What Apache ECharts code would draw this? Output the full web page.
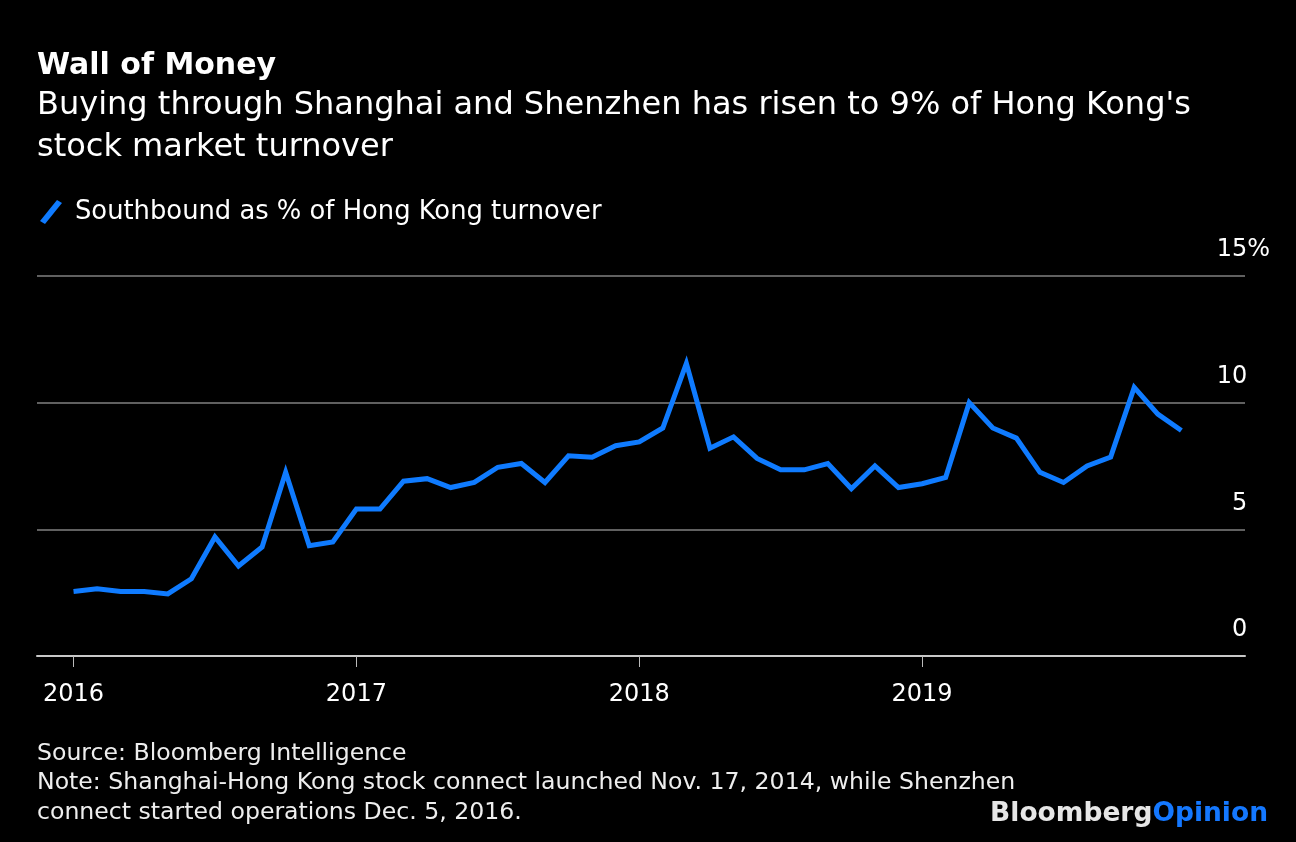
<!DOCTYPE html>
<html>
<head>
<meta charset="utf-8">
<script src="https://cdn.jsdelivr.net/npm/echarts@6/dist/echarts.min.js"></script>
<style>
html,body{margin:0;padding:0;background:#000;}
#chart{width:1296px;height:842px;}
</style>
</head>
<body>
<div id="chart"></div>
<script>
// ---- data ----
const months = [
 '2016-01','2016-02','2016-03','2016-04','2016-05','2016-06','2016-07','2016-08','2016-09','2016-10','2016-11','2016-12',
 '2017-01','2017-02','2017-03','2017-04','2017-05','2017-06','2017-07','2017-08','2017-09','2017-10','2017-11','2017-12',
 '2018-01','2018-02','2018-03','2018-04','2018-05','2018-06','2018-07','2018-08','2018-09','2018-10','2018-11','2018-12',
 '2019-01','2019-02','2019-03','2019-04','2019-05','2019-06','2019-07','2019-08','2019-09','2019-10','2019-11','2019-12'
];
const southbound = [
 2.55, 2.65, 2.55, 2.55, 2.45, 3.05, 4.7, 3.55, 4.3, 7.25, 4.35, 4.5,
 5.8, 5.8, 6.9, 7.0, 6.65, 6.85, 7.45, 7.6, 6.85, 7.9, 7.85, 8.3,
 8.45, 9.0, 11.55, 8.2, 8.65, 7.8, 7.35, 7.35, 7.6, 6.6, 7.5, 6.65,
 6.8, 7.05, 10.0, 9.0, 8.6, 7.25, 6.85, 7.5, 7.85, 10.6, 9.55, 8.9
];
const yearLabels = ['2016','2017','2018','2019'];
const seriesName = 'Southbound as % of Hong Kong turnover';

const FONT = '"DejaVu Sans"';
// month index on the x axis (Jan 2016 = 0)
const monthIndex = m => { const p = m.split('-').map(Number); return (p[0]-2016)*12 + (p[1]-1); };
const yearTickPos = yearLabels.map(y => monthIndex(y + '-01'));

const chart = echarts.init(document.getElementById('chart'), null, {renderer:'canvas'});
chart.setOption({
  backgroundColor: '#000',
  animation: false,
  title: [
    { text: 'Wall of Money', left: 37, top: 50, padding: 0,
      textStyle: {color:'#fff', fontFamily: FONT, fontWeight: 'bold', fontSize: 30, lineHeight: 32} },
    { text: "Buying through Shanghai and Shenzhen has risen to 9% of Hong Kong's\nstock market turnover",
      left: 37, top: 85, padding: 0,
      textStyle: {color:'#fff', fontFamily: FONT, fontWeight: 'normal', fontSize: 32, lineHeight: 42} },
    { text: 'Source: Bloomberg Intelligence\nNote: Shanghai-Hong Kong stock connect launched Nov. 17, 2014, while Shenzhen\nconnect started operations Dec. 5, 2016.',
      left: 37, top: 739, padding: 0,
      textStyle: {color:'#eee', fontFamily: FONT, fontWeight: 'normal', fontSize: 23.6, lineHeight: 29.5} }
  ],
  legend: {
    left: 40, top: 199, padding: 0,
    data: [seriesName],
    icon: 'path://M0,21 L17,0 L22,3 L5,24 Z',
    itemWidth: 22, itemHeight: 24, itemGap: 10,
    textStyle: {color:'#fff', fontFamily: FONT, fontSize: 25.8, padding: [0,0,0,8]}
  },
  grid: { left: 37, right: 51, top: 276, bottom: 186, containLabel: false },
  xAxis: {
    type: 'value',
    min: -1.55,
    max: 49.7,
    axisLine: { lineStyle: {color:'#c8c8c8', width: 2} },
    axisTick: { show: true, length: 11, lineStyle: {color:'#bbb', width: 1}, customValues: yearTickPos },
    axisLabel: { customValues: yearTickPos, margin: 27, color:'#fff', fontFamily: FONT, fontSize: 24,
      formatter: v => String(2016 + Math.round(v / 12)) },
    splitLine: { show: false }
  },
  yAxis: {
    type: 'value',
    position: 'right',
    min: 0, max: 15, interval: 5,
    axisLine: { show: false },
    axisTick: { show: false },
    axisLabel: {
      inside: true, margin: -25, color:'#fff', fontFamily: FONT, fontSize: 24,
      verticalAlign: 'bottom', padding: [0,0,14,0],
      formatter: v => v === 15 ? v + '{p|%}' : v + '{h|%}',
      rich: {
        p: {color:'#fff', fontFamily: FONT, fontSize: 24},
        h: {color:'rgba(0,0,0,0)', fontFamily: FONT, fontSize: 24}
      }
    },
    splitLine: { show: true, lineStyle: {color:'#606060', width: 2} }
  },
  series: [{
    name: seriesName,
    type: 'line',
    data: months.map((m, i) => [monthIndex(m), southbound[i]]),
    symbol: 'none',
    color: '#0f7bff',
    lineStyle: { color:'#0f7bff', width: 5, join: 'miter' }
  }],
  graphic: [{
    type: 'text', right: 28, top: 801,
    style: {
      text: '{b|Bloomberg}{o|Opinion}',
      rich: {
        b: {fill:'#e6e6e6', fontFamily: FONT, fontWeight: 'bold', fontSize: 26.5},
        o: {fill:'#1478ff', fontFamily: FONT, fontWeight: 'bold', fontSize: 26.5}
      }
    }
  }]
});
</script>
</body>
</html>
